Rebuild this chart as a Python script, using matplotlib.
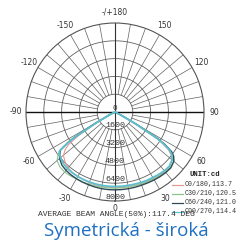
import numpy as np
import matplotlib
matplotlib.use("Agg")
import matplotlib.pyplot as plt

# ---- data ----
gamma = [0, 5, 10, 15, 20, 25, 30, 35, 40, 45, 50, 53, 55, 57, 58, 60, 62, 65, 70, 80, 90]
c0_right   = [6800, 6800, 6800, 6820, 6850, 6870, 6900, 6950, 7000, 6950, 6700, 6300, 5800, 4900, 4200, 2000, 600, 100, 0, 0, 0]
c180_left  = [6800, 6800, 6800, 6780, 6750, 6720, 6700, 6650, 6550, 6350, 6050, 5600, 5100, 4000, 3000, 1500, 500, 100, 0, 0, 0]
c30_right  = [6850, 6850, 6850, 6870, 6900, 6920, 6950, 7000, 7050, 7050, 6900, 6600, 6200, 5200, 4500, 2300, 800, 150, 0, 0, 0]
c210_left  = [6850, 6850, 6850, 6870, 6900, 6930, 6950, 7000, 7050, 7000, 6800, 6400, 6000, 5100, 4500, 2500, 900, 200, 0, 0, 0]
c60_right  = [7000, 7000, 7000, 7000, 7000, 7020, 7050, 7080, 7100, 7100, 6900, 6600, 6200, 5300, 4600, 2400, 800, 150, 0, 0, 0]
c240_left  = [7000, 7000, 7000, 6980, 6960, 6950, 6930, 6900, 6850, 6750, 6500, 6200, 6000, 5000, 4200, 2200, 700, 100, 0, 0, 0]
c90_right  = [6700, 6700, 6700, 6720, 6750, 6780, 6800, 6850, 6900, 6900, 6700, 6400, 6000, 5100, 4400, 2200, 700, 100, 0, 0, 0]
c270_left  = [6700, 6700, 6700, 6700, 6700, 6700, 6700, 6680, 6650, 6550, 6400, 6250, 6100, 5000, 4000, 1900, 600, 100, 0, 0, 0]

legend_labels = ["C0/180,113.7", "C30/210,120.5", "C60/240,121.0", "C90/270,114.4"]
ring_values = [1600, 3200, 4800, 6400, 8000]
angle_labels = [180, 150, 120, 90, 60, 30, 0, -30, -60, -90, -120, -150]
angle_texts = ["-/+180", "150", "120", "90", "60", "30", "0", "-30", "-60", "-90", "-120", "-150"]
beam_text = "AVERAGE BEAM ANGLE(50%):117.4 DEG"
title_text = "Symetrická - široká"
unit_text = "UNIT:cd"

colors = ["#e59a93", "#8fc48f", "#2e4a55", "#5cc0cf"]
widths = [0.8, 0.8, 1.0, 1.3]

W, H = 240, 242
fig = plt.figure(figsize=(W / 100, H / 100), dpi=100)
fig.patch.set_facecolor("white")

cx, cy, R = 115, 112, 89
ax = fig.add_axes([(cx - R) / W, (H - cy - R) / H, 2 * R / W, 2 * R / H], projection="polar")
ax.set_theta_zero_location("S")
ax.set_theta_direction(1)
ax.set_ylim(0, 8000)
ax.grid(False)
ax.set_xticks([])
ax.set_yticks([])
ax.spines["polar"].set_color("#555555")
ax.spines["polar"].set_linewidth(0.8)
ax.set_facecolor("white")

gc = "#606060"
th = np.linspace(0, 2 * np.pi, 361)
for rv in ring_values[:-1]:
    ax.plot(th, np.full_like(th, rv), color=gc, lw=0.6, zorder=1)
for a in range(0, 360, 10):
    t = np.deg2rad(a)
    if a % 90 == 0:
        continue
    ax.plot([t, t], [ring_values[0], 8000], color=gc, lw=0.5, zorder=1)
for a in (0, 180):
    t = np.deg2rad(a)
    ax.plot([t, t], [0, 8000], color="#333333", lw=0.8, zorder=1)
for a in (90, -90):
    t = np.deg2rad(a)
    ax.plot([t, t], [0, 8000], color="#111111", lw=1.0, zorder=1)

def full_curve(left, right):
    g = np.array(gamma, dtype=float)
    theta = np.concatenate([-g[::-1], g[1:]])
    r = np.concatenate([np.array(left[::-1], float), np.array(right[1:], float)])
    return np.deg2rad(theta), r

pairs = [(c180_left, c0_right), (c210_left, c30_right), (c240_left, c60_right), (c270_left, c90_right)]
for (lft, rgt), col, lw in zip(pairs, colors, widths):
    t, r = full_curve(lft, rgt)
    ax.plot(t, r, color=col, lw=lw, zorder=3)

# ring labels
ax.text(0, 0, "0", ha="center", va="bottom", fontsize=5.5, family="Liberation Mono", color="#333333", zorder=4)
for rv in ring_values:
    ax.text(0, rv - 350, str(rv), ha="center", va="center", fontsize=6, family="Liberation Mono",
            color="#333333", zorder=4)

# angle labels
for a, s in zip(angle_labels, angle_texts):
    rr = 8650 if a == 0 else 8950
    ax.text(np.deg2rad(a), rr, s, ha="center", va="center", fontsize=5.5, family="DejaVu Sans",
            color="#333333", clip_on=False)

def px(x, y):
    return x / W, 1 - y / H

mono = "Liberation Mono"
fig.text(*px(205, 175), unit_text, ha="center", va="center", fontsize=5.2, family=mono,
         color="#222222", weight="bold")
rows_y = [184.5, 193.5, 202.5, 211.5]
for lab, col, yy in zip(legend_labels, colors, rows_y):
    fig.add_artist(plt.Line2D([172 / W, 183 / W], [1 - yy / H, 1 - yy / H], color=col, lw=0.9))
    fig.text(*px(185, yy), lab, ha="left", va="center", fontsize=4.8, family=mono, color="#333333")

fig.text(*px(116, 215), beam_text, ha="center", va="center", fontsize=5.8, family=mono, color="#333333")
fig.text(*px(126, 231), title_text, ha="center", va="center", fontsize=13.5, family="Open Sans",
         color="#1f6fc2")

fig.savefig("out.png", dpi=100)
